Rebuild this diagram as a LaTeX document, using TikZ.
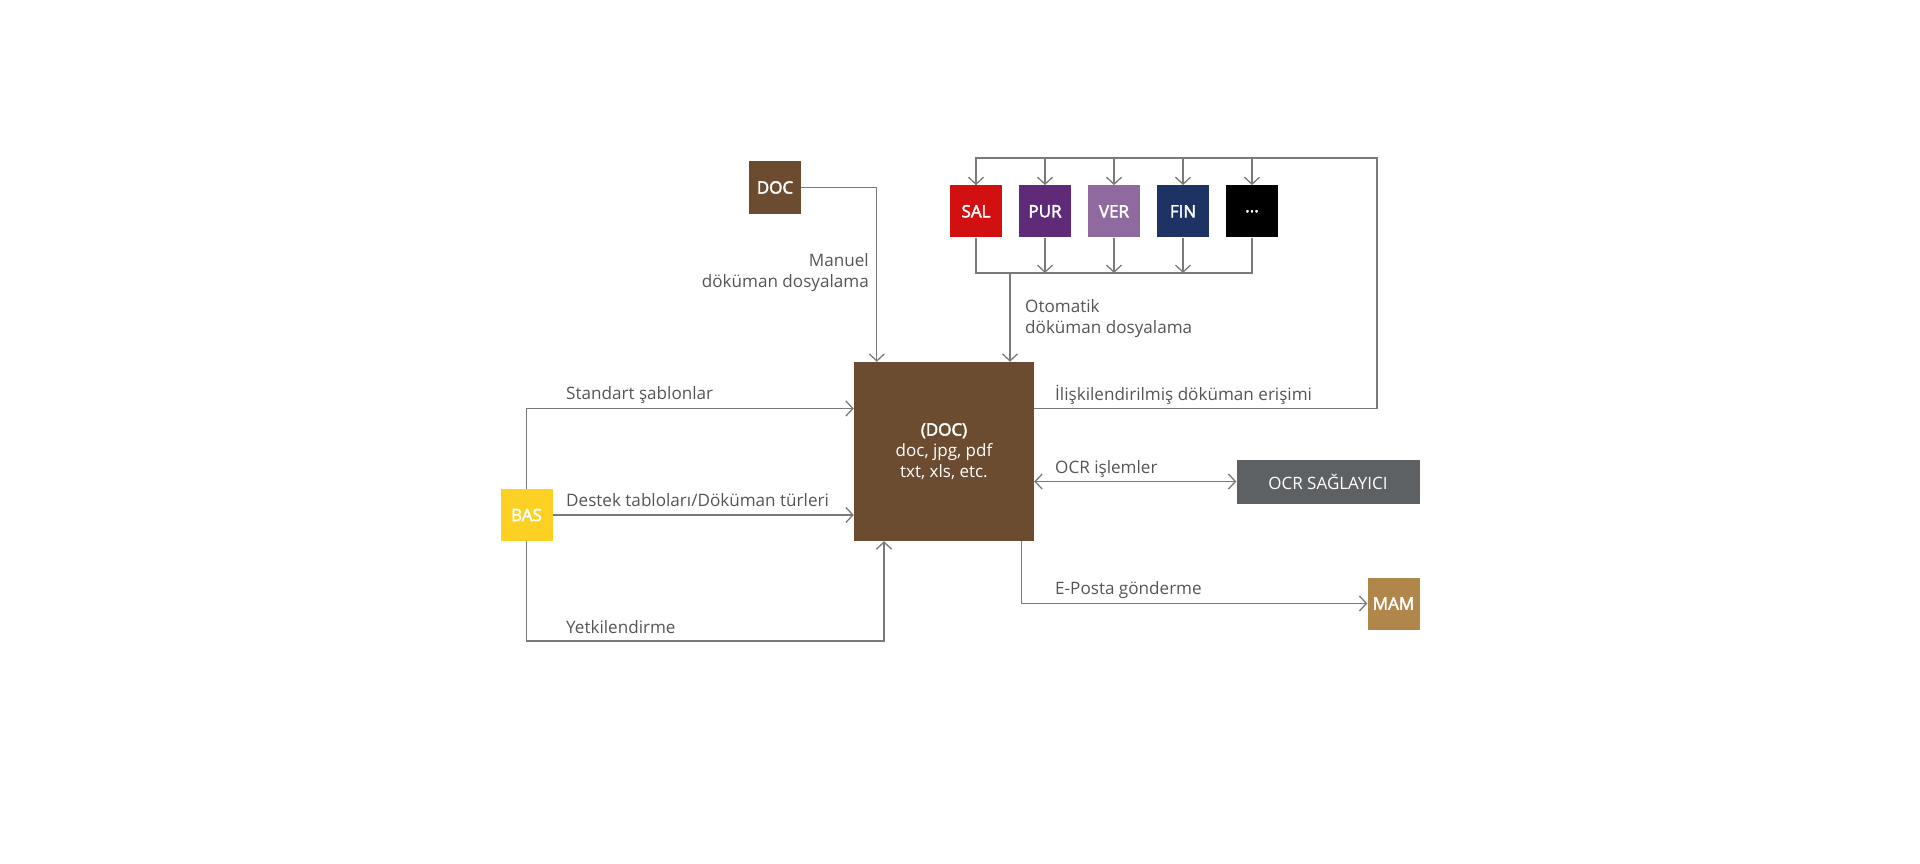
\documentclass[tikz,border=0pt]{standalone}
\usepackage{fontspec}
\setmainfont{Open Sans}
\newfontfamily\boxfont{Open Sans}[FakeBold=2.6]
\usetikzlibrary{calc,arrows.meta}
\definecolor{docbrown}{HTML}{6B4C30}
\definecolor{salred}{HTML}{D21011}
\definecolor{purviolet}{HTML}{5F2B79}
\definecolor{verlilac}{HTML}{8F6A9E}
\definecolor{finblue}{HTML}{1E3263}
\definecolor{basyellow}{HTML}{FDD024}
\definecolor{ocrgray}{HTML}{5E6163}
\definecolor{mamgold}{HTML}{B0864A}
\definecolor{linegray}{HTML}{7A7A7A}
\definecolor{textgray}{HTML}{555555}

\begin{document}
\begin{tikzpicture}[x=1pt,y=-1pt,
  box/.style={minimum width=52pt,minimum height=52pt,inner sep=0pt,
    text=white,font=\fontsize{17}{21}\selectfont\boxfont},
  link/.style={draw=linegray,line width=1.3pt},
  lbl/.style={text=textgray,inner sep=0pt,font=\fontsize{17.1}{21}\selectfont},
  >={Straight Barb[length=7pt,width=15pt]}]
 \useasboundingbox (0,0) rectangle (1920,864);

 \node[box,fill=docbrown] (doc) at (775,187.5) {DOC};
 \node[box,fill=docbrown,minimum width=180pt,minimum height=179pt,
   font=\fontsize{17}{21}\selectfont,align=center] (core) at (944,451.5)
   {{\boxfont (DOC)}\\doc, jpg, pdf\\txt, xls, etc.};
 \node[box,fill=salred] (sal) at (976,211.3) {SAL};
 \node[box,fill=purviolet] (pur) at (1045,211.3) {PUR};
 \node[box,fill=verlilac] (ver) at (1114,211.3) {VER};
 \node[box,fill=finblue] (fin) at (1183,211.3) {FIN};
 \node[box,fill=black] (etc) at (1252,211.3) {...};
 \node[box,fill=basyellow] (bas) at (526.5,515) {BAS};
 \node[box,fill=ocrgray,minimum width=183pt,minimum height=44pt,
   font=\fontsize{17}{21}\selectfont] (ocr) at (1328,481.5) {OCR SAĞLAYICI};
 \node[box,fill=mamgold] (mam) at (1393.5,603.5) {MAM};

 \coordinate (topbus) at (1377,158);
 \coordinate (botbus) at (1010,273);
 \coordinate (rowA) at (0,408.5);
 \coordinate (authcorner) at (884,641);

 \draw[link,->] (doc) -| ($(core.north west)+(23,0)$);
 \draw[link,->] (botbus) -- (botbus |- core.north);
 \draw[link] (sal.south) |- (etc.south |- botbus) -- (etc.south);
 \foreach \n in {pur,ver,fin}
  \draw[link,->] (\n.south) -- (\n |- botbus);
 \draw[link] (core.east |- rowA) -| (topbus) -| (sal.north);
 \foreach \n in {sal,pur,ver,fin,etc}
  \draw[link,->] (\n |- topbus) -- (\n.north);

 \draw[link,->] (bas.north) |- (core.west |- rowA);
 \draw[link,->] (bas) -- (core.west |- bas);
 \draw[link,->] (bas.south) |- (authcorner) -- (authcorner |- core.south);
 \draw[link,<->] (core.east |- ocr) -- (ocr.west);
 \draw[link,->] ($(core.south east)+(-13,0)$) |- (mam.west);

 \node[lbl,anchor=east,align=right] (manlbl) at (869,273)
  {Manuel\\döküman dosyalama};
 \node[lbl,anchor=west,align=left] (otolbl) at (1025,319)
  {Otomatik\\döküman dosyalama};
 \node[lbl,anchor=west] (stdlbl) at (566,395.5) {Standart şablonlar};
 \node[lbl,anchor=west] (deslbl) at (566,500) {Destek tabloları/Döküman türleri};
 \node[lbl,anchor=west] (yetlbl) at (566,627) {Yetkilendirme};
 \node[lbl,anchor=west] (rellbl) at (1055,394.5) {İlişkilendirilmiş döküman erişimi};
 \node[lbl,anchor=west] (ocrlbl) at (1055,469) {OCR işlemler};
 \node[lbl,anchor=west] (maillbl) at (1055,590.5) {E-Posta gönderme};
\end{tikzpicture}
\end{document}
